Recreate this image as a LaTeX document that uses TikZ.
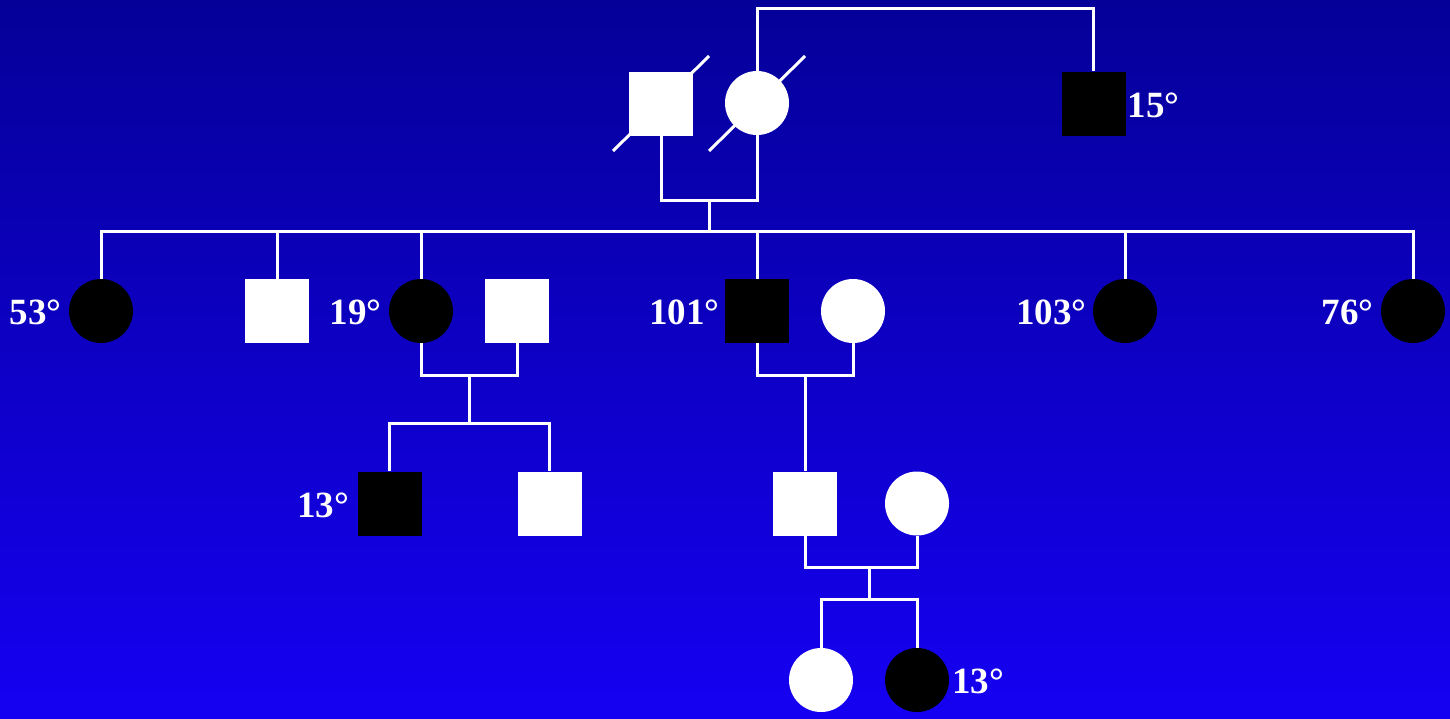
\documentclass[tikz,border=0pt]{standalone}
\usepackage{fontspec}
\setmainfont{Liberation Serif}
\definecolor{bgtop}{RGB}{5,0,152}
\definecolor{bgbot}{RGB}{22,0,242}
\tikzset{
  x=1pt, y=-1pt,
  line/.style={draw=white, line width=3pt},
  sq/.style={rectangle, minimum size=64pt, inner sep=0pt, fill=white},
  ci/.style={circle, minimum size=64pt, inner sep=0pt, fill=white},
  aff/.style={fill=black},
  lab/.style={text=white, inner sep=0pt, yshift=-1.5pt, font=\fontsize{37}{37}\selectfont\bfseries},
}
\begin{document}
\begin{tikzpicture}
\useasboundingbox (0,0) rectangle (1450,718);
\shade[top color=bgtop, bottom color=bgbot] (0,0) rectangle (1450,718);

% generation I
\node[sq] (I1) at (661,103.5) {};
\node[ci] (I2) at (757,103) {};
\node[sq,aff] (I3) at (1093.5,103.5) {};
\node[lab,anchor=west,xshift=2pt] (LI3) at (I3.east) {15°};
% deceased marks
\coordinate (d1a) at (613,151); \coordinate (d1b) at (709,56);
\coordinate (d2a) at (709,151); \coordinate (d2b) at (805,56);
\draw[line] (d1a) -- (d1b);
\draw[line] (d2a) -- (d2b);

% generation II
\node[ci,aff] (II1) at (101,311) {};
\node[sq]     (II2) at (277,311) {};
\node[ci,aff] (II3) at (421,311) {};
\node[sq]     (II4) at (517,311) {};
\node[sq,aff] (II5) at (757,311) {};
\node[ci]     (II6) at (853,311) {};
\node[ci,aff] (II7) at (1125,311) {};
\node[ci,aff] (II8) at (1413,311) {};
\node[lab,anchor=east,xshift=-7pt] (LII1) at (II1.west) {53°};
\node[lab,anchor=east,xshift=-7pt] (LII3) at (II3.west) {19°};
\node[lab,anchor=east,xshift=-5pt] (LII5) at (II5.west) {101°};
\node[lab,anchor=east,xshift=-6pt] (LII7) at (II7.west) {103°};
\node[lab,anchor=east,xshift=-7pt] (LII8) at (II8.west) {76°};

% generation III
\node[sq,aff] (III1) at (389.5,503.5) {};
\node[sq]     (III2) at (549.5,503.5) {};
\node[sq]     (III3) at (805,503.5) {};
\node[ci]     (III4) at (917,503.5) {};
\node[lab,anchor=east,xshift=-8pt] (LIII1) at (III1.west) {13°};

% generation IV
\node[ci]     (IV1) at (821,680) {};
\node[ci,aff] (IV2) at (917,680) {};
\node[lab,anchor=west,xshift=3pt] (LIV2) at (IV2.east) {13°};

% connectors
\coordinate (top) at (925,8);
\draw[line] (I2.north) |- (top) -| (I3.north);

\coordinate (m1) at (709,200);
\coordinate (s1) at (709,231);
\draw[line] (I1.south) |- (m1) -| (I2.south);
\draw[line] (m1) -- (s1);
\draw[line] (II1.north) |- (s1) -| (II8.north);
\foreach \n in {II2,II3,II5,II7} \draw[line] (\n.north) -- (\n.north |- s1);

\coordinate (m2) at (469,375);
\coordinate (s2) at (469,423);
\draw[line] (II3.south) |- (m2) -| (II4.south);
\draw[line] (m2) -- (s2);
\draw[line] (III1.north) |- (s2) -| (III2.north);

\coordinate (m3) at (805,375);
\draw[line] (II5.south) |- (m3) -| (II6.south);
\draw[line] (m3) -- (III3.north);

\coordinate (m4) at (869,567);
\coordinate (s4) at (869,599);
\draw[line] (III3.south) |- (m4) -| (III4.south);
\draw[line] (m4) -- (s4);
\draw[line] (IV1.north) |- (s4) -| (IV2.north);
\end{tikzpicture}
\end{document}
